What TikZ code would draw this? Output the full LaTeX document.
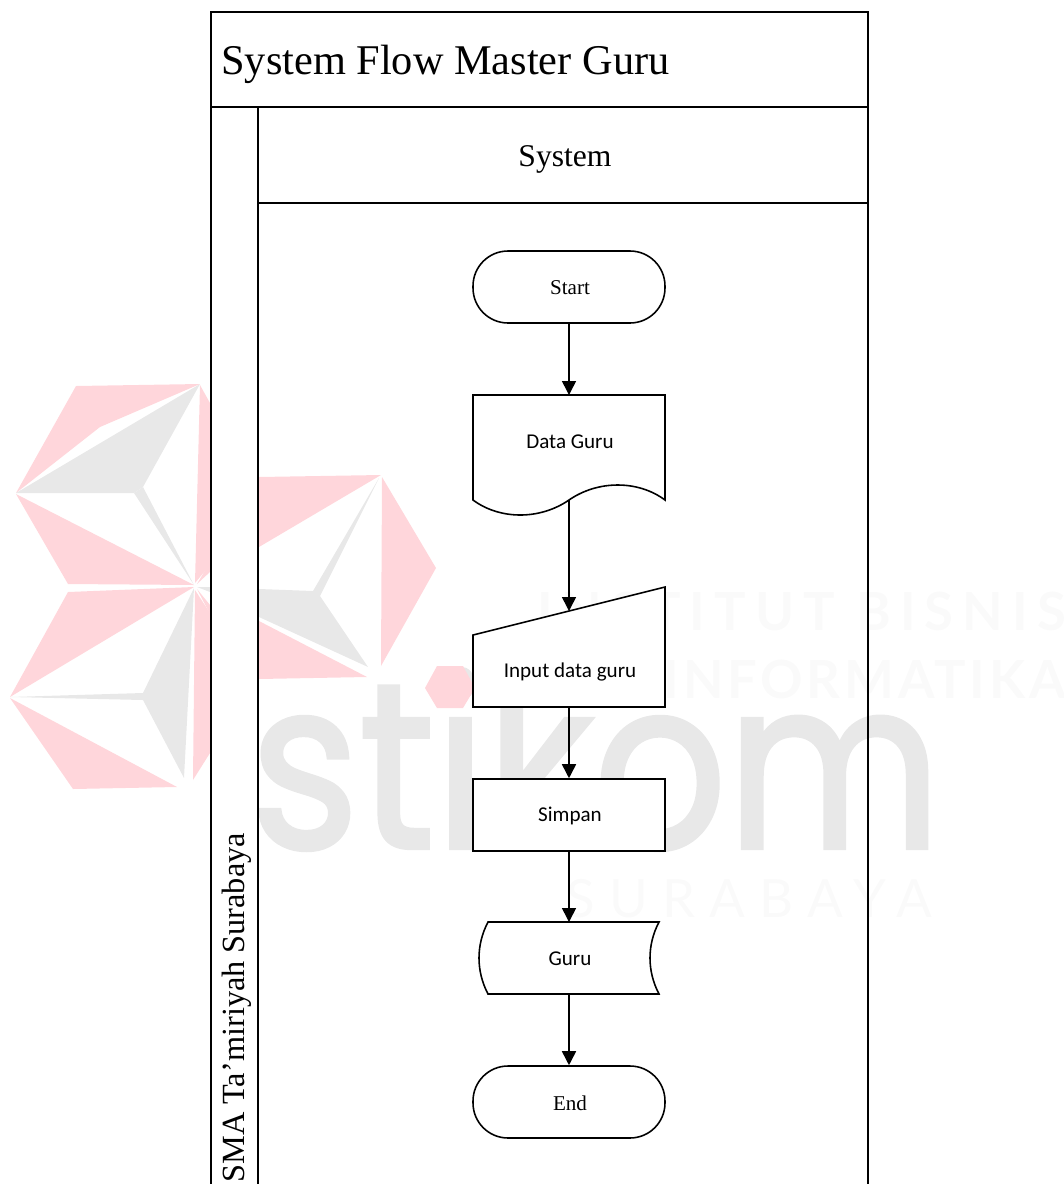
\documentclass[tikz,border=0pt]{standalone}
\usepackage{fontspec}
\usetikzlibrary{arrows.meta}
\setmainfont{Liberation Serif}
\newfontfamily\bodyfont{Carlito}
\newfontfamily\logofont[FakeBold=1.8]{Poppins}
\newfontfamily\markfont[LetterSpace=17]{Lato}
\newfontfamily\markfontb[LetterSpace=7]{Lato}
\newfontfamily\cityfont[LetterSpace=27]{Lato}
\definecolor{markpink}{HTML}{FFD6DB}
\definecolor{markgrey}{HTML}{E8E8E8}
\definecolor{markpale}{HTML}{FAFAFA}
\tikzset{
    lanebox/.style={draw,line width=0.9pt,fill=white,inner sep=0pt},
    flowbox/.style={minimum width=3.84cm,minimum height=1.44cm,inner sep=0pt,font=\fontsize{12}{14}\selectfont},
    flowline/.style={line width=0.9pt,-{Triangle[length=0.28cm,width=0.28cm]}},
    outline/.style={draw,line width=0.9pt,fill=white}
}

\begin{document}
\begin{tikzpicture}[x=0.02cm,y=-0.02cm]
    \useasboundingbox (0,0) rectangle (1064,1184);
    % watermark
    \foreach \p in {
        {(76,386) -- (200,384) -- (100,427) -- (16,493)},
        {(16,494) -- (194,585) -- (68,584)},
        {(200,385) -- (210,403) -- (210,565) -- (195,583)},
        {(68,592) -- (194,587) -- (10,697)},
        {(10,698) -- (177,787) -- (73,789)},
        {(195,590) -- (193,780) -- (210,753) -- (210,613)},
        {(197,584) -- (210,562) -- (210,572)},
        {(197,589) -- (210,605) -- (210,614)},
        {(259,477) -- (381,475) -- (259,547)},
        {(259,621) -- (367,677) -- (259,679)},
        {(382,477) -- (436,568) -- (381,666)}
    } {
        \fill[markpink] \p -- cycle;
    };
    \foreach \p in {
        {(200,384) -- (16,493) -- (134,493) -- (143,487)},
        {(134,493) -- (143,487) -- (194,585)},
        {(194,588) -- (143,693) -- (143,700) -- (184,778)},
        {(10,697) -- (143,693) -- (143,700)},
        {(197,587) -- (210,587) -- (210,592)},
        {(259,589) -- (313,591) -- (379,478) -- (320,596) -- (368,667) -- (259,617)}
    } {
        \fill[markgrey] \p -- cycle;
    };
    \node[anchor=base west,inner sep=0pt,text=markgrey,xscale=0.885] (logotext) at (250,848) {\logofont\fontsize{134}{134}\selectfont stikom};
    \fill[markpink] (425,688) -- (437,666) -- (463,666) -- (475,688) -- (463,708) -- (437,708) -- cycle;
    \node[anchor=base east,inner sep=0pt,text=markpale] (instituttext) at (1066,630) {\markfont\bfseries\fontsize{30}{30}\selectfont INSTITUT BISNIS};
    \node[anchor=base east,inner sep=0pt,text=markpale] (informatikatext) at (1066,698) {\markfontb\bfseries\fontsize{30}{30}\selectfont INFORMATIKA};
    \node[anchor=base west,inner sep=0pt,text=markpale] (surabayatext) at (566,917) {\cityfont\fontsize{30}{30}\selectfont SURABAYA};

    % swimlane
    \node[lanebox,minimum width=13.14cm,minimum height=1.9cm] (title) at (539.5,59.5) {};
    \node[inner sep=0pt,anchor=west,font=\fontsize{24.1}{28}\selectfont] (titletext) at (221,64) {System Flow Master Guru};
    \node[lanebox,minimum width=0.94cm,minimum height=21.8cm] (sidelane) at (234.5,652) {};
    \node[lanebox,minimum width=12.2cm,minimum height=1.92cm] (systemlane) at (563,155) {};
    \node[inner sep=0pt,font=\fontsize{18}{22}\selectfont] (systemtext) at (565,159) {System};
    \draw[line width=0.9pt] (868,203) -- (868,1190);
    \node[rotate=90,anchor=west,inner sep=0pt,font=\fontsize{18.4}{22}\selectfont] (sidelabel) at (237,1183) {SMA Ta'miriyah Surabaya};

    % symbols with no ready shape
    \draw[outline] (473,395) -- (665,395) -- (665,500)
        .. controls (638,480) and (598,480) .. (569,500)
        .. controls (540,520) and (500,520) .. (473,500) -- cycle;
    \draw[outline] (473,635) -- (665,587) -- (665,707) -- (473,707) -- cycle;
    \draw[outline] (488,922) -- (659,922) .. controls (647,945) and (647,971) .. (659,994)
        -- (488,994) .. controls (476,971) and (476,945) .. (488,922) -- cycle;

    % flow
    \node[flowbox,draw,fill=white,line width=0.9pt,rounded corners=0.7cm] (start) at (569,287) {};
    \node[inner sep=0pt,font=\fontsize{12}{14}\selectfont] (starttext) at (570,288) {Start};
    \node[flowbox,minimum height=1.84cm,font=\bodyfont\fontsize{12}{14}\selectfont] (dataguru) at (570,442) {Data Guru};
    \coordinate (dataguruin) at (569,395);
    \coordinate (dataguruout) at (569,500);
    \node[flowbox,font=\bodyfont\fontsize{12}{14}\selectfont] (input) at (570,672) {Input data guru};
    \coordinate (inputin) at (569,611);
    \coordinate (inputout) at (569,707);
    \node[flowbox,draw,fill=white,line width=0.9pt] (simpan) at (569,815) {};
    \node[inner sep=0pt,font=\bodyfont\fontsize{12}{14}\selectfont] (simpantext) at (570,816) {Simpan};
    \node[flowbox,minimum width=3.6cm,font=\bodyfont\fontsize{12}{14}\selectfont] (guru) at (570,959) {Guru};
    \coordinate (guruin) at (569,922);
    \coordinate (guruout) at (569,994);
    \node[flowbox,draw,fill=white,line width=0.9pt,rounded corners=0.7cm] (end) at (569,1102) {};
    \node[inner sep=0pt,font=\fontsize{12}{14}\selectfont] (endtext) at (570,1103) {End};

    \draw[flowline] (start) -- (dataguruin);
    \draw[flowline] (dataguruout) -- (inputin);
    \draw[flowline] (inputout) -- (simpan);
    \draw[flowline] (simpan) -- (guruin);
    \draw[flowline] (guruout) -- (end);
\end{tikzpicture}
\end{document}
